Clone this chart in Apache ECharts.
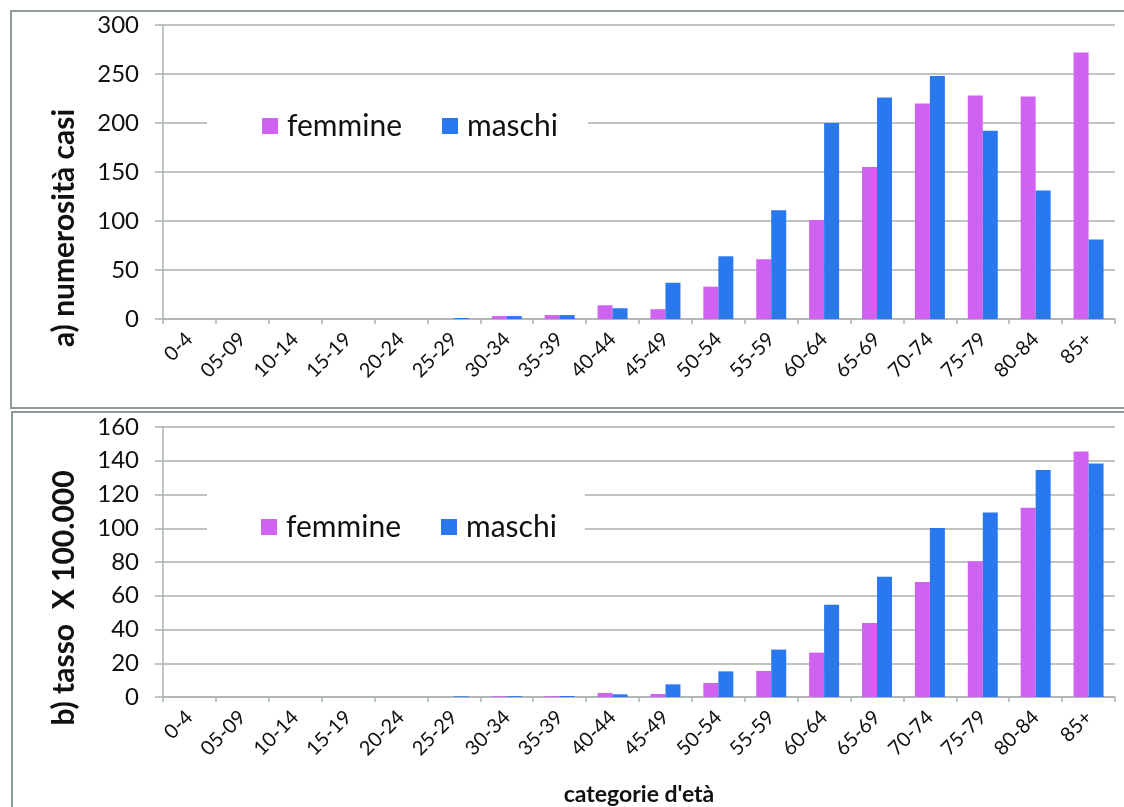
<!DOCTYPE html>
<html>
<head>
<meta charset="utf-8">
<script src="https://cdn.jsdelivr.net/npm/echarts@6/dist/echarts.min.js"></script>
<style>
html,body{margin:0;padding:0;background:#fff;}
#chart{width:1124px;height:807px;}
</style>
</head>
<body>
<div id="chart"></div>
<script>
var categories = ['0-4','05-09','10-14','15-19','20-24','25-29','30-34','35-39','40-44','45-49','50-54','55-59','60-64','65-69','70-74','75-79','80-84','85+'];
var casiFemmine = [0,0,0,0,0,0,3,4,14,10,33,61,101,155,220,228,227,272];
var casiMaschi  = [0,0,0,0,0,1,3,4,11,37,64,111,200,226,248,192,131,81];
var tassoFemmine = [0,0,0,0,0,0,0.5,0.6,2.4,1.8,8.3,15.4,26.3,43.8,68.1,80.4,112.1,145.5];
var tassoMaschi  = [0,0,0,0,0,0.4,0.5,0.6,1.6,7.5,15.2,28.1,54.7,71.3,100.2,109.3,134.5,138.4];
var seriesNames = ['femmine','maschi'];
var colors = ['#d062f2','#2a78ee'];

var FONT = 'Lato, "Open Sans", sans-serif';
var gridColor = '#aab2b2';
var textColor = '#111111';

function xAxisDef(idx, withName){
  var a = {
    type:'category', gridIndex:idx, data:categories,
    axisLine:{show:true, lineStyle:{color:gridColor, width:1.5}},
    axisTick:{show:true, length:5, lineStyle:{color:gridColor, width:1.5}},
    axisLabel:{rotate:45, margin:17, color:textColor, fontSize:20, fontFamily:FONT, interval:0},
    splitLine:{show:false}
  };
  if (withName){
    a.name = "categorie d'età";
    a.nameLocation = 'middle';
    a.nameGap = 86;
    a.nameTextStyle = {color:textColor, fontSize:23, fontWeight:'bold', fontFamily:FONT};
  }
  return a;
}
function yAxisDef(idx, max, interval, name, shift){
  return {
    type:'value', gridIndex:idx, min:0, max:max, interval:interval,
    name:name, nameLocation:'middle', nameGap:84, nameRotate:90,
    nameTextStyle:{color:textColor, fontSize:30, fontWeight:'bold', fontFamily:FONT, padding:[0, shift*2, 0, 0]},
    axisLine:{show:true, lineStyle:{color:gridColor, width:1.5}},
    axisTick:{show:true, inside:false, length:8, lineStyle:{color:gridColor, width:1.5}},
    axisLabel:{margin:24, color:textColor, fontSize:24, fontFamily:FONT},
    splitLine:{show:true, lineStyle:{color:gridColor, width:1.5}}
  };
}
function legendDef(top, padding){
  return {
    data: seriesNames, left:207, top:top, orient:'horizontal',
    backgroundColor:'#fff', padding:padding,
    itemWidth:16, itemHeight:16, itemGap:40, icon:'rect',
    textStyle:{color:textColor, fontSize:30, fontFamily:FONT, padding:[0,0,0,4]},
    selectedMode:false
  };
}
function barSeries(name, xi, yi, data, color){
  return {
    name:name, type:'bar', xAxisIndex:xi, yAxisIndex:yi, data:data,
    barWidth:15, barGap:'0%',
    itemStyle:{color:color},
    emphasis:{disabled:true}
  };
}

var chart = echarts.init(document.getElementById('chart'), null, {renderer:'canvas'});
chart.setOption({
  backgroundColor:'#fff',
  animation:false,
  color: colors,
  graphic:[
    {type:'rect', shape:{x:11, y:11, width:1130, height:397}, style:{fill:'none', stroke:'#8d9b98', lineWidth:2}, z:-1},
    {type:'rect', shape:{x:12, y:412, width:1130, height:400}, style:{fill:'none', stroke:'#8d9b98', lineWidth:2}, z:-1}
  ],
  legend:[
    legendDef(101, [10, 30, 10, 55]),
    legendDef(478, [34, 28, 12, 54])
  ],
  grid:[
    {left:163, top:25, right:9, height:294, containLabel:false},
    {left:163, top:427, right:9, height:270, containLabel:false}
  ],
  xAxis:[ xAxisDef(0,false), xAxisDef(1,true) ],
  yAxis:[
    yAxisDef(0, 300, 50, 'a) numerosità casi', 56),
    yAxisDef(1, 160, 20, 'b) tasso  X 100.000', 36)
  ],
  series:[
    barSeries(seriesNames[0], 0, 0, casiFemmine, colors[0]),
    barSeries(seriesNames[1], 0, 0, casiMaschi, colors[1]),
    barSeries(seriesNames[0], 1, 1, tassoFemmine, colors[0]),
    barSeries(seriesNames[1], 1, 1, tassoMaschi, colors[1])
  ]
});
</script>
</body>
</html>
